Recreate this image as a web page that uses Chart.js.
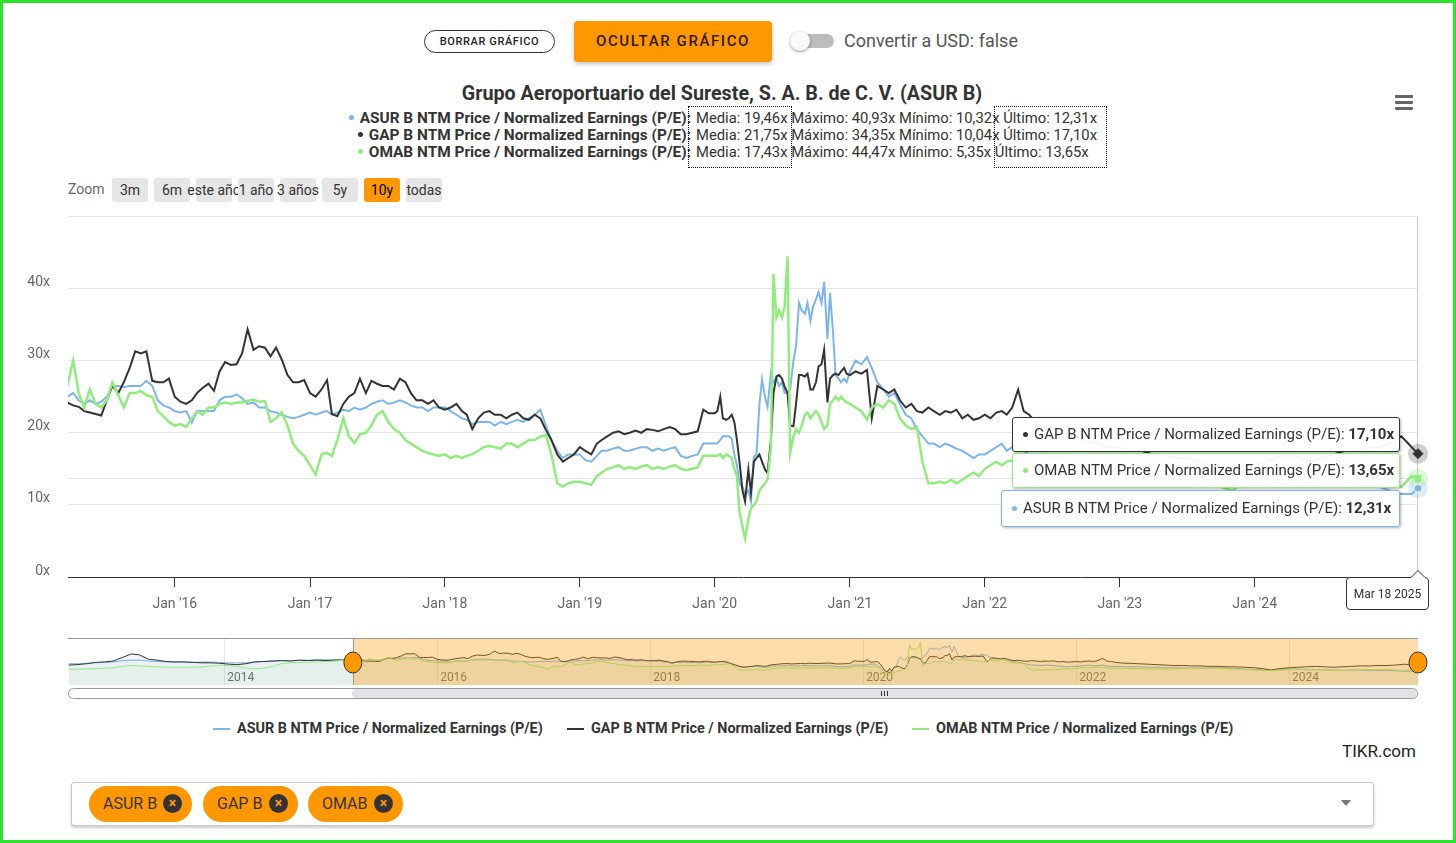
<!DOCTYPE html>
<html lang="es">
<head>
<meta charset="utf-8">
<title>ASUR B NTM P/E</title>
<script src="https://cdn.jsdelivr.net/npm/chart.js@4.4.1/dist/chart.umd.min.js"></script>
<style>
  html, body { margin: 0; padding: 0; background: #fff; }
  body { position: relative; width: 1456px; height: 843px; overflow: hidden; font-family: Roboto, "Liberation Sans", sans-serif; color: #333; }
  .abs { position: absolute; }
  #frame { left: 0; top: 0; width: 1450px; height: 837px; border: 3px solid #2be32b; z-index: 50; pointer-events: none; }
  #btn-borrar { left: 424px; top: 30px; width: 129px; height: 21px; border: 1px solid #333; border-radius: 12px; font-size: 11px; font-weight: 500; letter-spacing: 0.6px; line-height: 21px; text-align: center; color: #222; }
  #btn-ocultar { left: 574px; top: 21px; width: 198px; height: 41px; background: #ff9800; border-radius: 4px; box-shadow: 0 2px 4px rgba(0,0,0,.25); font-size: 15px; font-weight: 500; letter-spacing: 1.6px; line-height: 41px; text-align: center; color: #2b1b00; }
  #toggle-track { left: 792px; top: 34px; width: 42px; height: 14px; border-radius: 7px; background: #bdbdbd; }
  #toggle-knob { left: 790px; top: 31px; width: 20px; height: 20px; border-radius: 50%; background: #fafafa; box-shadow: 0 1px 3px rgba(0,0,0,.4); }
  #usd { left: 844px; top: 30px; font-size: 18px; color: #555; line-height: 22px; white-space: nowrap; }
  #title { left: 0; width: 1444px; top: 82px; text-align: center; font-size: 19.7px; font-weight: bold; color: #333; line-height: 24px; }
  .st-label { right: 765px; font-size: 15.4px; font-weight: bold; line-height: 17px; white-space: nowrap; text-align: right; color: #333; }
  .st-vals { left: 696px; font-size: 14.8px; line-height: 17px; white-space: nowrap; color: #333; }
  .dot { display: inline-block; width: 5px; height: 5px; border-radius: 50%; margin-right: 6px; vertical-align: middle; position: relative; top: -1px; }
  .st-box { border: 1px dotted #111; box-sizing: border-box; }
  #menu div { position: absolute; left: 0; width: 18px; height: 3px; background: #666; border-radius: 1px; }
  #zoom-label { left: 68px; top: 180px; font-size: 14px; color: #666; line-height: 18px; }
  .zbtn { top: 178px; width: 36px; height: 24px; background: #e6e6e6; border-radius: 3px; display: flex; justify-content: center; align-items: center; font-size: 14px; color: #333; white-space: nowrap; }
  .zbtn.on { background: #ff9800; color: #000; }
  #main { left: 0; top: 190px; }
  #nav { left: 0; top: 636px; }
  .tt { box-sizing: border-box; background: rgba(255,255,255,0.96); border: 1px solid; border-radius: 3px; box-shadow: 1px 1px 3px rgba(0,0,0,0.3); font-size: 15px; color: #333; white-space: nowrap; padding-left: 10px; z-index: 10; }
  #scroll-track { left: 68px; top: 688px; width: 1350px; height: 11px; box-sizing: border-box; border: 1px solid #999; border-radius: 6px; background: #fff; }
  #scroll-thumb { left: 352px; top: 689px; width: 1065px; height: 9px; background: #e2e2e7; border-radius: 5px; }
  #grip { left: 881px; top: 691px; width: 7px; height: 5px; border-left: 1px solid #333; border-right: 1px solid #333; box-sizing: border-box; }
  #grip::after { content: ""; position: absolute; left: 2px; top: 0; width: 1px; height: 5px; background: #333; }
  .lg-sym { top: 728px; width: 17px; height: 2px; }
  .lg-txt { top: 721px; font-size: 14.4px; font-weight: bold; color: #333; line-height: 16px; white-space: nowrap; }
  #tikr { left: 1342px; top: 741px; font-size: 17px; color: #222; line-height: 20px; }
  #select { left: 71px; top: 782px; width: 1303px; height: 44px; box-sizing: border-box; border: 1px solid #c8c8c8; border-radius: 3px; box-shadow: 0 2px 3px rgba(0,0,0,.2); background: #fff; }
  .chip { top: 786px; height: 36px; border-radius: 18px; background: #ff9800; font-size: 16px; color: #333; line-height: 36px; padding-left: 14px; box-sizing: border-box; white-space: nowrap; }
  .chip .x { position: absolute; right: 10px; top: 8px; width: 19px; height: 19px; border-radius: 50%; background: #333; color: #ff9800; font-size: 14px; line-height: 19px; text-align: center; font-weight: bold; }
  #caret { left: 1341px; top: 800px; width: 0; height: 0; border-left: 5px solid transparent; border-right: 5px solid transparent; border-top: 6px solid #777; }
</style>
</head>
<body>
<div id="frame" class="abs"></div>

<div id="btn-borrar" class="abs">BORRAR GRÁFICO</div>
<div id="btn-ocultar" class="abs">OCULTAR GRÁFICO</div>
<div id="toggle-track" class="abs"></div>
<div id="toggle-knob" class="abs"></div>
<div id="usd" class="abs">Convertir a USD: false</div>

<div id="title" class="abs">Grupo Aeroportuario del Sureste, S. A. B. de C. V. (ASUR B)</div>
<div id="stats"></div>
<div class="abs st-box" style="left:688px;top:106px;width:104px;height:62px;"></div>
<div class="abs st-box" style="left:994px;top:106px;width:113px;height:62px;"></div>

<div id="menu" class="abs" style="left:1395px;top:95px;width:18px;height:16px;">
  <div style="top:0"></div><div style="top:6px"></div><div style="top:12px"></div>
</div>

<div id="zoom-label" class="abs">Zoom</div>
<div id="zoom-btns"></div>

<canvas id="main" class="abs" width="1456" height="430"></canvas>
<canvas id="nav" class="abs" width="1456" height="50"></canvas>

<div id="tooltips"></div>
<svg class="abs" style="left:1340px;top:565px;z-index:11" width="96" height="50">
  <path d="M9.5 12.5 H71 L78 5.5 L85 12.5 Q88.5 12.5 88.5 16 V41 Q88.5 44.5 85 44.5 H10 Q6.5 44.5 6.5 41 V16 Q6.5 12.5 9.5 12.5 Z" fill="#fff" stroke="#333" stroke-width="1"/>
  <text x="47.5" y="33" text-anchor="middle" font-family="Roboto, sans-serif" font-size="12" fill="#333">Mar 18 2025</text>
</svg>

<div id="scroll-track" class="abs"></div>
<div id="scroll-thumb" class="abs"></div>
<div id="grip" class="abs"></div>

<div id="legend"></div>
<div id="tikr" class="abs">TIKR.com</div>

<div id="select" class="abs"></div>
<div id="chips"></div>
<div id="caret" class="abs"></div>

<script>
// ---- data (NTM Price / Normalized Earnings, x) ----
const dates = [
  '2012-07-16','2012-08-16','2012-09-16','2012-10-16','2012-11-16','2012-12-16',
  '2013-01-16','2013-02-16','2013-03-16','2013-04-16','2013-05-16','2013-06-16','2013-07-16','2013-08-16','2013-09-16','2013-10-16','2013-11-16','2013-12-16',
  '2014-01-16','2014-02-16','2014-03-16','2014-04-16','2014-05-16','2014-06-16','2014-07-16','2014-08-16','2014-09-16','2014-10-16','2014-11-16','2014-12-16',
  '2015-01-16','2015-02-16',
  '2015-03-01','2015-03-16','2015-04-01','2015-04-16','2015-05-01','2015-05-16','2015-06-01','2015-06-16','2015-07-01','2015-07-16','2015-08-01','2015-08-16','2015-09-01','2015-09-16','2015-10-01','2015-10-16','2015-11-01','2015-11-16','2015-12-01','2015-12-16',
  '2016-01-01','2016-01-16','2016-02-01','2016-02-16','2016-03-01','2016-03-16','2016-04-01','2016-04-16','2016-05-01','2016-05-16','2016-06-01','2016-06-16','2016-07-01','2016-07-16','2016-08-01','2016-08-16','2016-09-01','2016-09-16','2016-10-01','2016-10-16','2016-11-01','2016-11-16','2016-12-01','2016-12-16',
  '2017-01-01','2017-01-16','2017-02-01','2017-02-16','2017-03-01','2017-03-16','2017-04-01','2017-04-16','2017-05-01','2017-05-16','2017-06-01','2017-06-16','2017-07-01','2017-07-16','2017-08-01','2017-08-16','2017-09-01','2017-09-16','2017-10-01','2017-10-16','2017-11-01','2017-11-16','2017-12-01','2017-12-16',
  '2018-01-01','2018-01-16','2018-02-01','2018-02-16','2018-03-01','2018-03-16','2018-04-01','2018-04-16','2018-05-01','2018-05-16','2018-06-01','2018-06-16','2018-07-01','2018-07-16','2018-08-01','2018-08-16','2018-09-01','2018-09-16','2018-10-01','2018-10-16','2018-11-01','2018-11-16','2018-12-01','2018-12-16',
  '2019-01-01','2019-01-16','2019-02-01','2019-02-16','2019-03-01','2019-03-16','2019-04-01','2019-04-16','2019-05-01','2019-05-16','2019-06-01','2019-06-16','2019-07-01','2019-07-16','2019-08-01','2019-08-16','2019-09-01','2019-09-16','2019-10-01','2019-10-16','2019-11-01','2019-11-16','2019-12-01','2019-12-16',
  '2020-01-01','2020-01-08','2020-01-16','2020-01-23','2020-02-01','2020-02-08','2020-02-16','2020-02-23','2020-03-01','2020-03-08','2020-03-16','2020-03-23',
  '2020-04-01','2020-04-08','2020-04-16','2020-04-23','2020-05-01','2020-05-08','2020-05-16','2020-05-23','2020-06-01','2020-06-08','2020-06-16','2020-06-23',
  '2020-07-01','2020-07-08','2020-07-16','2020-07-23','2020-08-01','2020-08-08','2020-08-16','2020-08-23','2020-09-01','2020-09-08','2020-09-16','2020-09-23',
  '2020-10-01','2020-10-08','2020-10-16','2020-10-23','2020-11-01','2020-11-08','2020-11-16','2020-11-23','2020-12-01','2020-12-08','2020-12-16','2020-12-23',
  '2021-01-01','2021-01-16','2021-02-01','2021-02-16','2021-03-01','2021-03-16','2021-04-01','2021-04-16','2021-05-01','2021-05-16','2021-06-01','2021-06-16','2021-07-01','2021-07-16','2021-08-01','2021-08-16','2021-09-01','2021-09-16','2021-10-01','2021-10-16','2021-11-01','2021-11-16','2021-12-01','2021-12-16',
  '2022-01-01','2022-01-16','2022-02-01','2022-02-16','2022-03-01','2022-03-16','2022-04-01','2022-04-16','2022-05-01','2022-05-16','2022-06-01','2022-06-16',
  '2022-07-01','2022-08-01','2022-09-01','2022-10-01','2022-11-01','2022-12-01',
  '2023-01-01','2023-02-01','2023-03-01','2023-04-01','2023-05-01','2023-06-01','2023-07-01','2023-08-01','2023-09-01','2023-10-01','2023-11-01','2023-12-01',
  '2024-01-01','2024-02-01','2024-03-01','2024-04-01','2024-05-01','2024-06-01','2024-07-01','2024-08-01','2024-09-01','2024-10-01','2024-11-01','2024-12-01',
  '2025-01-01','2025-02-01','2025-03-01','2025-03-18'
];

const asurValues = [
  20, 20, 20.5, 21, 21.5, 22, 23.5, 24, 24, 23, 22.5, 22, 22, 22, 21.5, 22, 22, 21.5, 21, 21, 21, 22, 22.5, 23, 23.5, 23.5, 24, 24, 24.5, 24.5, 24.5, 25,
  24.5, 25, 25.5, 24.5, 24, 24.5, 24, 24.3, 25, 26.5, 26.5, 26.3, 26.5, 26.5, 26.5, 27.2, 26.5, 24.5, 23.8, 23.5,
  23, 22.8, 23, 21.4, 23, 23, 23, 23, 24.5, 25, 25, 25.3, 24.8, 24, 24.2, 23.5, 23.5, 23, 22.8, 22.5, 22.2, 22, 22.2, 22.5,
  22.8, 22.5, 22.8, 23, 22.5, 22.8, 23.2, 23, 23.5, 23.2, 23.5, 24, 24.3, 24.5, 24, 24.2, 24.5, 24.2, 23.8, 23.5, 23.5, 23, 23.5, 23.5,
  23.5, 23, 22.5, 22, 21.8, 21.2, 21.5, 21.5, 21.5, 21, 21.5, 21.2, 21.5, 21.8, 21.5, 22, 22.5, 23.2, 21, 19, 17.5, 16.5, 17, 17,
  17, 16.2, 16, 16.8, 17.5, 17.5, 17.8, 18, 17.5, 17.5, 17.8, 18, 18, 17.5, 17.8, 17.5, 17.8, 18, 16.8, 16.5, 16.8, 17, 18.5, 18.5,
  18.5, 18.5, 19, 19.5, 19.5, 19.5, 19.2, 17, 15.5, 13, 12.5, 11.5, 12, 10.5, 16.7, 17, 24, 27.4, 25, 23.6, 28.3, 27, 27.5, 26.5,
  27, 25.5, 25.5, 26, 30, 32, 38, 37, 36.5, 38, 35.5, 37.5, 38.5, 39.5, 38, 40.9, 33, 39.4, 34, 28, 27.5, 27, 27.5, 27,
  28.5, 30, 29.5, 30.5, 29, 27, 26, 25, 25.5, 24, 22.5, 22, 20.5, 19.5, 18.5, 18.5, 18, 18.5, 18.2, 17.8, 17.5, 17, 16.5, 17,
  17, 17.5, 18, 18.5, 17.5, 18, 18.5, 17.5, 17, 17, 17, 16.5,
  16.5, 16.5, 16, 16, 15.5, 15.5,
  15.5, 15, 15, 15, 15.5, 15, 14.5, 14, 13.5, 13, 12.5, 13.5,
  14, 14, 13.5, 13.5, 13, 13, 12.5, 13, 13, 12.5, 12.5, 12.5,
  12, 11.5, 11.5, 12.31
];

const gapValues = [
  18.5, 19, 20, 21.5, 22, 23, 27, 31, 30, 25, 24, 22.5, 22, 22, 21.5, 21, 21, 20.5, 19.5, 19, 20, 22, 22.5, 23, 23.5, 23, 24, 23.5, 24, 23.5, 24, 24,
  24.5, 24.2, 23.8, 23.6, 23, 22.8, 22.6, 22.4, 24.5, 26.5, 25.5, 27, 29, 31.3, 31, 31.3, 27.2, 27, 27, 27.5,
  25, 24.3, 24, 24.5, 25.5, 26.2, 26.8, 25.8, 28.5, 29.8, 29.4, 29.5, 31, 34.35, 31.5, 32, 31.8, 30.6, 31.8, 30.2, 28, 27, 27, 27.3,
  25.5, 25, 26, 27.3, 22.6, 22.3, 24, 25, 25.5, 27.5, 25.5, 27.2, 26.8, 26.5, 26.5, 26, 27.5, 27, 25.5, 24.5, 24.5, 24, 24.5, 23.5,
  23.2, 23.5, 24, 23, 22.5, 20.5, 22, 22.8, 23, 22.5, 22.5, 22, 22.5, 22.8, 22, 21.8, 22.5, 22, 20.4, 19, 17, 16, 16.5, 17,
  18, 17.5, 17, 18.5, 19, 19.5, 20, 20.2, 19.8, 20, 20.3, 20, 20.5, 20.4, 20.2, 20.5, 20.8, 20.5, 19.8, 19.8, 20, 20.2, 23.2, 22.7,
  22.7, 23, 25, 22, 21.8, 22, 22.5, 21.5, 19, 16, 12, 10.5, 14.9, 11.7, 16, 16.5, 17, 16, 14.9, 14.4, 19, 25.5, 27.8, 28,
  27.5, 26.4, 25.5, 21, 20.9, 24, 28, 28, 27.8, 28.2, 26, 26, 27, 29.2, 29.5, 31.5, 24.2, 27.5, 28, 28.2, 28, 28.5, 29, 28.2,
  28, 28.5, 28.2, 28.7, 22, 26.5, 26, 25.5, 26, 24.5, 23.5, 24, 23, 22.8, 23.5, 23, 22.5, 23, 22.8, 23.2, 22, 22.5, 21.8, 22,
  22.5, 22, 22.8, 23, 22.5, 23.5, 26, 23, 22.5, 21.5, 21, 20.5,
  20.5, 20, 19.5, 19, 18.5, 18,
  18, 17.5, 17.5, 17, 17, 16.5, 16.5, 16, 15.5, 14.5, 13, 14.5,
  15.5, 16, 16.5, 17, 16.5, 16, 16.5, 17, 17.5, 17.5, 18, 18,
  18.5, 19.5, 18, 17.1
];

const omabValues = [
  14, 14, 14, 14.5, 15, 15.5, 17, 18, 17.5, 17, 16.5, 16, 16, 16, 16, 16.5, 17.5, 18, 18, 17, 15, 14.5, 15, 17, 20, 21, 21.5, 21.5, 22, 22.5, 23, 24,
  25, 26.5, 30, 25.5, 23.5, 26, 24, 23.5, 24.5, 27, 25.2, 23.5, 25.5, 25.5, 25.8, 25.2, 25, 23, 22.3, 21.5,
  21, 21.2, 20.8, 22, 23, 22.5, 23.5, 23.5, 24, 24.2, 24, 24.2, 24.2, 24.4, 24.6, 24.3, 24.4, 21.5, 22, 22.8, 21, 18.5, 17.5, 16.8,
  15.5, 14.2, 17, 17.2, 16.8, 19, 22, 19.5, 18.6, 19.8, 20, 21, 22.5, 23, 21.5, 20.5, 20, 19, 18.5, 18, 17.5, 17.2, 17, 16.8,
  17, 16.5, 16.8, 16.5, 16.8, 17, 17.5, 18, 18.2, 18, 17.8, 18.5, 18.5, 18, 18.5, 19, 19, 19.5, 19.7, 17, 13, 12.5, 13, 13.2,
  13.2, 13, 12.8, 14, 14.5, 15, 15.2, 15.5, 15, 15.2, 15, 15.3, 15.5, 15, 15.2, 15, 15.3, 15.5, 15, 14.8, 15, 15.2, 16.8, 16.8,
  16.8, 16.8, 17, 16.5, 17, 16.8, 16.5, 15, 14, 9, 7, 5.35, 8, 9.5, 10, 10.5, 12, 12.5, 13, 13.5, 18, 42, 36, 37,
  36, 37.5, 44.47, 17.2, 19.5, 20.5, 20, 21, 22.5, 22.8, 22, 22.5, 23, 22.5, 21.5, 20.5, 21, 24, 24.5, 25, 24.5, 25, 24.5, 24.2,
  24, 23.5, 23, 21.8, 23.5, 24, 23.5, 24.5, 24, 22, 21, 20.5, 20.8, 16, 13, 13, 13.2, 13, 13.5, 13, 13.5, 14, 14.5, 14,
  15, 15.5, 16, 15.5, 16, 16.2, 16, 15.5, 15, 15, 15, 14.8,
  14.5, 14.5, 14, 14, 14, 14,
  14.5, 14.5, 15, 15, 15, 14.5, 14, 13.5, 13, 12.5, 12, 13,
  13.5, 13.5, 13, 13, 13, 12.5, 12.5, 13, 13, 13.5, 13.5, 13.5,
  13, 12.5, 14, 13.65
];

const seriesNames = [
  'ASUR B NTM Price / Normalized Earnings (P/E)',
  'GAP B NTM Price / Normalized Earnings (P/E)',
  'OMAB NTM Price / Normalized Earnings (P/E)'
];
const seriesColors = ['#7cb5ec', '#333333', '#90ed7d'];
const haloColors = ['rgba(124,181,236,0.25)', 'rgba(67,67,72,0.25)', 'rgba(144,237,125,0.3)'];
const lastLabels = ['12,31x', '17,10x', '13,65x'];
const statsRows = [
  ['Media: 19,46x', 'Máximo: 40,93x', 'Mínimo: 10,32x', 'Último: 12,31x'],
  ['Media: 21,75x', 'Máximo: 34,35x', 'Mínimo: 10,04x', 'Último: 17,10x'],
  ['Media: 17,43x', 'Máximo: 44,47x', 'Mínimo: 5,35x', 'Último: 13,65x']
];
const xTickYears = [2016, 2017, 2018, 2019, 2020, 2021, 2022, 2023, 2024];
const navYears = [2014, 2016, 2018, 2020, 2022, 2024];
const zoomButtons = ['3m', '6m', 'este año', '1 año', '3 años', '5y', '10y', 'todas'];
const viewStart = '2015-03-18';
const viewEnd = '2025-03-18';
const navStart = '2012-07-14';
const plotLineValue = 13.7;

// ---- page furniture ----
const statsEl = document.getElementById('stats');
statsRows.forEach((row, i) => {
  const top = 110 + i * 17;
  statsEl.innerHTML += `<div class="abs st-label" style="top:${top}px"><span class="dot" style="background:${seriesColors[i]}"></span>${seriesNames[i].replace('(P/E)', '(P/E):')}</div>`;
  statsEl.innerHTML += `<div class="abs st-vals" style="top:${top}px">${row.join(' ')}</div>`;
});

const zb = document.getElementById('zoom-btns');
zoomButtons.forEach((t, i) => {
  zb.innerHTML += `<div class="abs zbtn${t === '10y' ? ' on' : ''}" style="left:${112 + i * 42}px"><span>${t}</span></div>`;
});

// tooltip boxes, top to bottom: GAP, OMAB, ASUR
const ttEl = document.getElementById('tooltips');
[[1, 1012, 417, 388, 35], [2, 1012, 453, 388, 35], [0, 1001, 490, 399, 37]].forEach(([s, l, t, w, h]) => {
  ttEl.innerHTML += `<div class="abs tt" style="left:${l}px;top:${t}px;width:${w}px;height:${h}px;line-height:${h - 2}px;border-color:${seriesColors[s]}"><span class="dot" style="background:${seriesColors[s]}"></span>${seriesNames[s]}: <b>${lastLabels[s]}</b></div>`;
});

const lgEl = document.getElementById('legend');
[213, 567, 912].forEach((l, i) => {
  lgEl.innerHTML += `<div class="abs lg-sym" style="left:${l}px;background:${seriesColors[i]}"></div>`;
  lgEl.innerHTML += `<div class="abs lg-txt" style="left:${l + 24}px">${seriesNames[i]}</div>`;
});

const chipsEl = document.getElementById('chips');
[['ASUR B', 89, 103], ['GAP B', 203, 95], ['OMAB', 308, 95]].forEach(([t, l, w]) => {
  chipsEl.innerHTML += `<div class="abs chip" style="left:${l}px;width:${w}px">${t}<span class="x">×</span></div>`;
});

// ---- charts ----
Chart.defaults.font.family = 'Roboto, "Liberation Sans", sans-serif';

const toPoints = vals => dates.map((d, i) => ({ x: Date.parse(d), y: vals[i] }));
const allValues = [asurValues, gapValues, omabValues];
const markerStyles = ['circle', 'rectRot', 'rect'];
const markerSizes = [4, 5, 4];
const lastIndex = dates.length - 1;

const mainOverlay = {
  id: 'mainOverlay',
  beforeDatasetsDraw(chart) {
    const { ctx, chartArea: a, scales: { x, y } } = chart;
    ctx.save();
    ctx.lineWidth = 1;
    ctx.strokeStyle = '#e6e6e6';
    const py = Math.round(y.getPixelForValue(plotLineValue)) + 0.5;
    ctx.beginPath(); ctx.moveTo(a.left, py); ctx.lineTo(a.right, py); ctx.stroke();
    const px = Math.round(x.getPixelForValue(Date.parse(viewEnd))) - 0.5;
    ctx.strokeStyle = '#cccccc';
    ctx.beginPath(); ctx.moveTo(px, a.top); ctx.lineTo(px, a.bottom); ctx.stroke();
    // hover halos at the last points
    chart.data.datasets.forEach((ds, i) => {
      const pt = chart.getDatasetMeta(i).data[lastIndex];
      ctx.fillStyle = haloColors[i];
      ctx.beginPath(); ctx.arc(pt.x, pt.y, 10, 0, Math.PI * 2); ctx.fill();
    });
    ctx.restore();
  }
};

// y tick padding (18px) also sets the 27px gap above the plot area, so the canvas starts at 190
new Chart(document.getElementById('main'), {
  type: 'line',
  data: {
    datasets: allValues.map((vals, i) => ({
      label: seriesNames[i],
      data: toPoints(vals),
      borderColor: seriesColors[i],
      borderWidth: i === 2 ? 2.5 : 2,
      pointStyle: markerStyles[i],
      pointRadius: c => (c.dataIndex === lastIndex ? markerSizes[i] : 0),
      pointHoverRadius: 0,
      pointBackgroundColor: seriesColors[i],
      pointBorderColor: i === 0 ? '#ffffff' : seriesColors[i],
      pointBorderWidth: 1,
      tension: 0,
      order: 2 - i,
      clip: { left: 0, top: 4, right: 14, bottom: 0 }
    }))
  },
  options: {
    responsive: false,
    animation: false,
    events: [],
    layout: { padding: { left: 0, right: 38, top: 0, bottom: 0 } },
    plugins: { legend: { display: false }, tooltip: { enabled: false } },
    scales: {
      x: {
        type: 'linear',
        min: Date.parse(viewStart),
        max: Date.parse(viewEnd),
        afterBuildTicks: s => { s.ticks = xTickYears.map(yr => ({ value: Date.UTC(yr, 0, 1) })); },
        afterFit: s => { s.height = 43; },
        ticks: {
          autoSkip: false, maxRotation: 0, padding: 9, color: '#666', font: { size: 14 },
          callback: v => "Jan '" + String(new Date(v).getUTCFullYear()).slice(2)
        },
        grid: { drawOnChartArea: false, drawTicks: true, tickLength: 10, tickColor: '#333', color: '#333' },
        border: { display: true, color: '#333', width: 1 }
      },
      y: {
        min: 0, max: 50,
        afterFit: s => { s.width = 68; },
        ticks: {
          stepSize: 10, padding: 18, labelOffset: -6, color: '#666', font: { size: 14 },
          callback: v => (v === 50 ? '' : v + 'x')
        },
        grid: { drawTicks: false, color: c => (c.tick.value === 0 ? 'rgba(0,0,0,0)' : '#e6e6e6') },
        border: { display: false }
      }
    }
  },
  plugins: [mainOverlay]
});

const navOverlay = {
  id: 'navOverlay',
  beforeDatasetsDraw(chart) {
    const { ctx, chartArea: a, scales: { x } } = chart;
    ctx.save();
    ctx.fillStyle = '#666';
    ctx.font = '12px Roboto, sans-serif';
    ctx.textBaseline = 'alphabetic';
    navYears.forEach(yr => ctx.fillText(String(yr), x.getPixelForValue(Date.UTC(yr, 0, 1)) + 3, a.bottom - 4));
    ctx.restore();
  },
  afterDatasetsDraw(chart) {
    const { ctx, chartArea: a, scales: { x } } = chart;
    const x0 = x.getPixelForValue(Date.parse(viewStart));
    const x1 = x.getPixelForValue(Date.parse(viewEnd));
    ctx.save();
    ctx.fillStyle = 'rgba(255,152,0,0.33)';
    ctx.fillRect(x0, a.top, x1 - x0, a.bottom - a.top);
    ctx.strokeStyle = '#999';
    ctx.lineWidth = 1;
    ctx.beginPath(); ctx.moveTo(a.left, a.top + 0.5); ctx.lineTo(a.right, a.top + 0.5); ctx.stroke();
    ctx.beginPath(); ctx.moveTo(Math.round(x0) + 0.5, a.top); ctx.lineTo(Math.round(x0) + 0.5, a.bottom); ctx.stroke();
    [x0, x1].forEach(px => {
      ctx.beginPath();
      ctx.ellipse(px, (a.top + a.bottom) / 2 + 1, 9, 10.5, 0, 0, Math.PI * 2);
      ctx.fillStyle = '#ff9800';
      ctx.fill();
      ctx.strokeStyle = '#333';
      ctx.stroke();
    });
    ctx.restore();
  }
};

new Chart(document.getElementById('nav'), {
  type: 'line',
  data: {
    datasets: allValues.map((vals, i) => ({
      data: toPoints(vals),
      borderColor: seriesColors[i],
      borderWidth: 1,
      pointRadius: 0,
      tension: 0,
      fill: 'start',
      backgroundColor: ['rgba(124,181,236,0.07)', 'rgba(67,67,72,0.05)', 'rgba(144,237,125,0.08)'][i],
      order: 2 - i
    }))
  },
  options: {
    responsive: false,
    animation: false,
    events: [],
    layout: { padding: { left: 68, right: 38, top: 2, bottom: 1 } },
    plugins: { legend: { display: false }, tooltip: { enabled: false } },
    scales: {
      x: {
        type: 'linear',
        min: Date.parse(navStart),
        max: Date.parse(viewEnd),
        afterBuildTicks: s => { s.ticks = navYears.map(yr => ({ value: Date.UTC(yr, 0, 1) })); },
        afterFit: s => { s.height = 0; },
        ticks: { display: false },
        grid: { drawTicks: false, color: '#e6e6e6' },
        border: { display: false }
      },
      y: { display: false, min: -4, max: 49 }
    }
  },
  plugins: [navOverlay]
});
</script>
</body>
</html>
